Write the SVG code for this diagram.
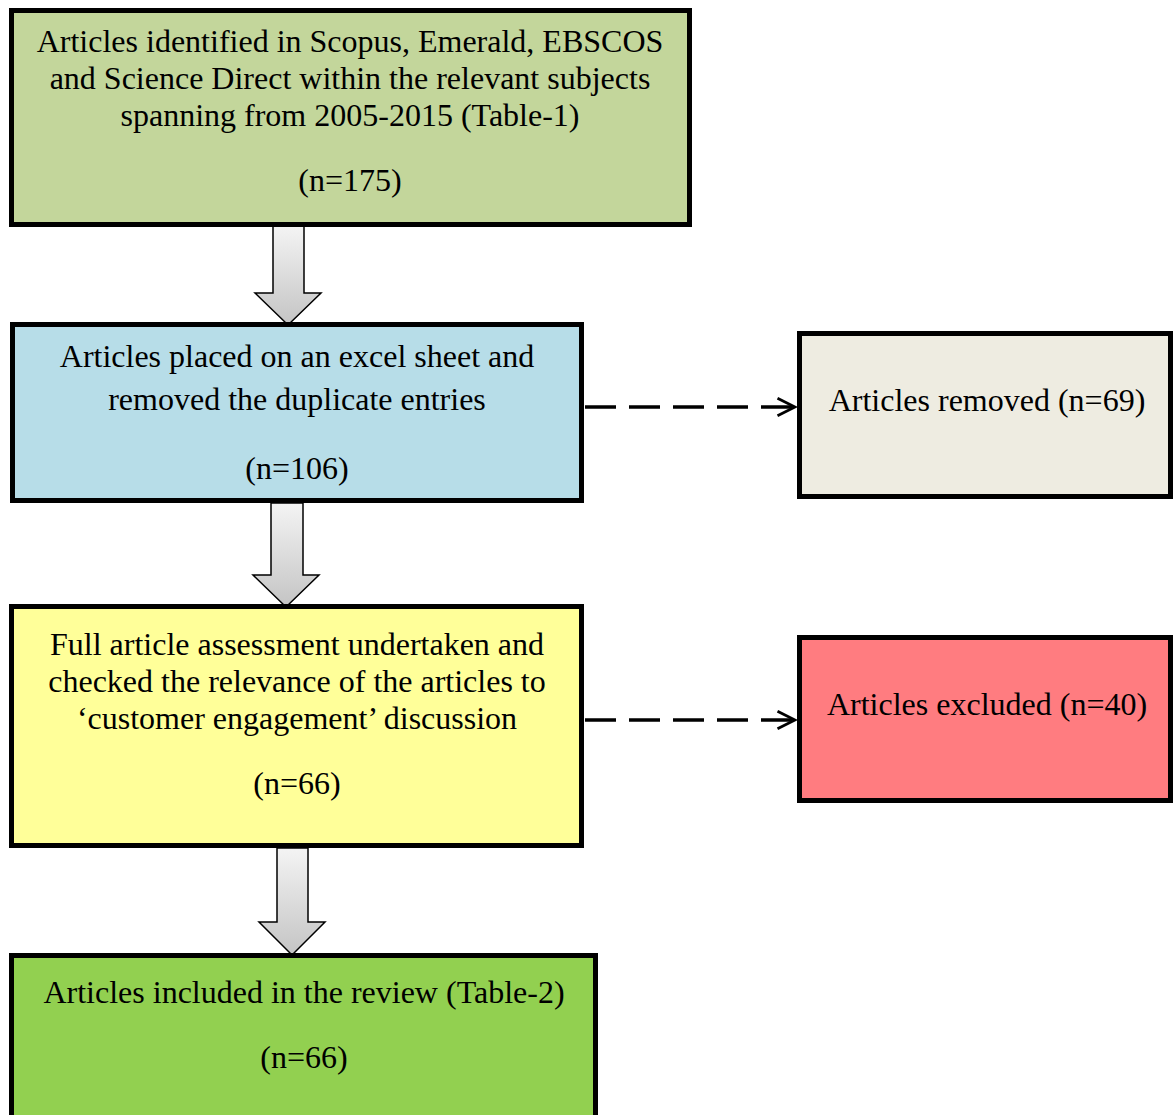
<svg xmlns="http://www.w3.org/2000/svg" width="1175" height="1115" viewBox="0 0 1175 1115">
  <defs>
    <linearGradient id="shaftGrad" x1="0" y1="0" x2="0" y2="1">
      <stop offset="0" stop-color="#f4f4f4"/>
      <stop offset="1" stop-color="#c4c4c4"/>
    </linearGradient>
    <marker id="openHead" viewBox="0 0 12 12" refX="11" refY="6" markerWidth="6" markerHeight="6" markerUnits="strokeWidth" orient="auto">
      <path d="M1,1 L11,6 L1,11" fill="none" stroke="#000" stroke-width="1.6"/>
    </marker>
  </defs>
  <style>
    .box { stroke: #000; stroke-width: 5; }
    .lbl { font-family: "Liberation Serif", "Times New Roman", serif; font-size: 32px; fill: #000; text-anchor: middle; }
    .down { fill: url(#shaftGrad); stroke: #000; stroke-width: 1.5; stroke-linejoin: miter; }
    .dash { fill: none; stroke: #000; stroke-width: 3.5; stroke-dasharray: 31 13; }
  </style>

  <rect width="1175" height="1115" fill="#ffffff"/>

  <!-- flow connectors -->
  <g id="connectors">
    <polygon class="down" points="273,226 304,226 304,293 321,293 288,325 255,293 273,293"/>
    <polygon class="down" points="271,503 303,503 303,575 319,575 286,607 253,575 271,575"/>
    <polygon class="down" points="277,848 308,848 308,922 325,922 292,955 259,922 277,922"/>
    <line class="dash" x1="585" y1="407" x2="795" y2="407" marker-end="url(#openHead)"/>
    <line class="dash" x1="585" y1="720" x2="795" y2="720" marker-end="url(#openHead)"/>
  </g>

  <g id="identified">
    <rect class="box" x="11.5" y="10.5" width="678" height="214" fill="#C3D69B"/>
    <text class="lbl" x="350" y="52">Articles identified in Scopus, Emerald, EBSCOS</text>
    <text class="lbl" x="350" y="89">and Science Direct within the relevant subjects</text>
    <text class="lbl" x="350" y="126">spanning from 2005-2015 (Table-1)</text>
    <text class="lbl" x="350" y="191">(n=175)</text>
  </g>

  <g id="deduplicated">
    <rect class="box" x="12.5" y="324.5" width="569" height="176" fill="#B7DDE8"/>
    <text class="lbl" x="297" y="367">Articles placed on an excel sheet and</text>
    <text class="lbl" x="297" y="410">removed the duplicate entries</text>
    <text class="lbl" x="297" y="479">(n=106)</text>
  </g>

  <g id="removed">
    <rect class="box" x="799.5" y="333.5" width="371" height="163" fill="#EEECE1"/>
    <text class="lbl" x="987" y="411">Articles removed (n=69)</text>
  </g>

  <g id="assessed">
    <rect class="box" x="11.5" y="606.5" width="570" height="239" fill="#FFFF99"/>
    <text class="lbl" x="297" y="655">Full article assessment undertaken and</text>
    <text class="lbl" x="297" y="692">checked the relevance of the articles to</text>
    <text class="lbl" x="297" y="729">‘customer engagement’ discussion</text>
    <text class="lbl" x="297" y="794">(n=66)</text>
  </g>

  <g id="excluded">
    <rect class="box" x="799.5" y="637.5" width="371" height="163" fill="#FF7C80"/>
    <text class="lbl" x="987" y="715">Articles excluded (n=40)</text>
  </g>

  <g id="included">
    <rect class="box" x="11.5" y="955.5" width="584" height="170" fill="#92D050"/>
    <text class="lbl" x="304" y="1003">Articles included in the review (Table-2)</text>
    <text class="lbl" x="304" y="1068">(n=66)</text>
  </g>
</svg>
